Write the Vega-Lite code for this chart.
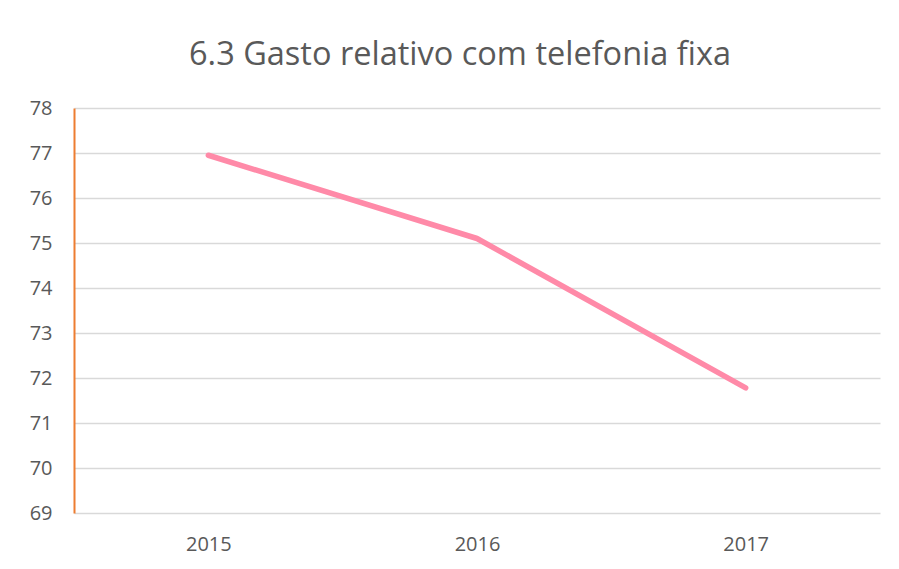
{
  "$schema": "https://vega.github.io/schema/vega-lite/v6.json",
  "width": 806,
  "height": 405,
  "autosize": {"type": "none"},
  "padding": {"left": 74, "top": 108, "right": 19, "bottom": 56},
  "background": "white",
  "title": {
    "text": "6.3 Gasto relativo com telefonia fixa",
    "font": "Open Sans",
    "fontSize": 32.5,
    "fontWeight": "normal",
    "color": "#595959",
    "anchor": "middle",
    "dx": -17,
    "offset": 27
  },
  "config": {
    "view": {"stroke": null},
    "axis": {
      "labelFont": "Open Sans",
      "labelFontSize": 20,
      "labelColor": "#595959",
      "ticks": false,
      "title": null
    }
  },
  "data": {
    "values": [
      {"ano": "2015", "valor": 76.95},
      {"ano": "2016", "valor": 75.1},
      {"ano": "2017", "valor": 71.78}
    ]
  },
  "mark": {"type": "line", "color": "#ff8aa8", "strokeWidth": 5.5, "strokeCap": "round", "strokeJoin": "round"},
  "encoding": {
    "x": {
      "field": "ano",
      "type": "ordinal",
      "scale": {"type": "point", "padding": 0.5},
      "axis": {"labelAngle": 0, "labelPadding": 21, "domain": false, "grid": false}
    },
    "y": {
      "field": "valor",
      "type": "quantitative",
      "scale": {"domain": [69, 78], "nice": false, "zero": false},
      "axis": {
        "values": [69, 70, 71, 72, 73, 74, 75, 76, 77, 78],
        "labelPadding": 22,
        "domainColor": "#ed7d31",
        "domainWidth": 2,
        "gridColor": "#d9d9d9",
        "gridWidth": 1.5
      }
    }
  }
}
